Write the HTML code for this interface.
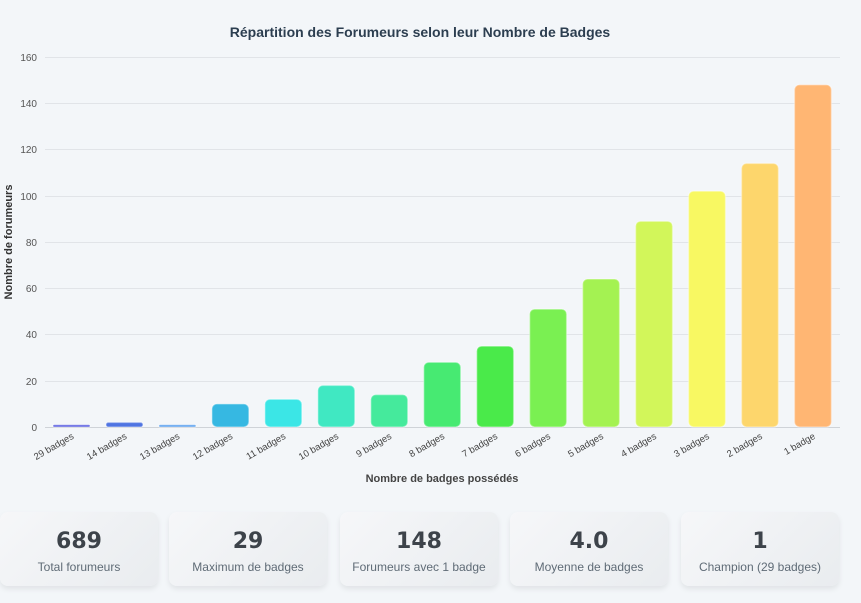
<!DOCTYPE html><html><head><meta charset="utf-8"><style>
body{margin:0;width:861px;height:603px;background:#f3f6f9;font-family:"Liberation Sans",sans-serif;overflow:hidden;position:relative}
.card{position:absolute;top:512px;width:158px;height:74px;border-radius:8px;background:linear-gradient(135deg,#f6f7f9,#e9ecef);box-shadow:0 3px 6px rgba(0,0,0,.08);text-align:center}
.card b{display:block;margin-top:17px;font-size:22px;color:#3d434a;line-height:26px;font-family:"DejaVu Sans","Liberation Sans",sans-serif}
.card span{display:block;margin-top:5px;font-size:12px;color:#5f6b76;font-family:"Liberation Sans",sans-serif}
</style></head><body>
<svg width="861" height="500" style="position:absolute;left:0;top:0" font-family="Liberation Sans, sans-serif">
<text x="420" y="37" text-anchor="middle" font-size="14" font-weight="bold" fill="#2c3e50">Répartition des Forumeurs selon leur Nombre de Badges</text>
<g stroke="#e1e4e8" stroke-width="1">
<line x1="45" x2="840" y1="57.5" y2="57.5"/><line x1="45" x2="840" y1="103.5" y2="103.5"/><line x1="45" x2="840" y1="149.5" y2="149.5"/><line x1="45" x2="840" y1="196.5" y2="196.5"/><line x1="45" x2="840" y1="242.5" y2="242.5"/><line x1="45" x2="840" y1="288.5" y2="288.5"/><line x1="45" x2="840" y1="334.5" y2="334.5"/><line x1="45" x2="840" y1="381.5" y2="381.5"/></g>
<line x1="45" x2="840" y1="427.5" y2="427.5" stroke="#cfd3d8"/>
<g font-size="10" fill="#555" text-anchor="end">
<text x="37" y="61">160</text><text x="37" y="107">140</text><text x="37" y="153">120</text><text x="37" y="200">100</text><text x="37" y="246">80</text><text x="37" y="292">60</text><text x="37" y="338">40</text><text x="37" y="385">20</text><text x="37" y="431">0</text></g>
<text transform="translate(12,242) rotate(-90)" text-anchor="middle" font-size="11" font-weight="bold" fill="#333">Nombre de forumeurs</text>
<text x="442" y="482" text-anchor="middle" font-size="11" font-weight="bold" fill="#444">Nombre de badges possédés</text>
<g id="bars"></g>
<g id="labs" font-size="9.5" fill="#444"></g>
</svg>
<div class="card" style="left:0"><b>689</b><span>Total forumeurs</span></div>
<div class="card" style="left:169px"><b>29</b><span>Maximum de badges</span></div>
<div class="card" style="left:340px"><b>148</b><span>Forumeurs avec 1 badge</span></div>
<div class="card" style="left:510px"><b>4.0</b><span>Moyenne de badges</span></div>
<div class="card" style="left:681px"><b>1</b><span>Champion (29 badges)</span></div>
<script>
var v=[1,2,1,10,12,18,14,28,35,51,64,89,102,114,148];
var c=["#5a5ee0","#4f74e2","#5aa0ee","#36b8e2","#3be6e6","#40e8c2","#45ea9c","#47ea72","#4aea4a","#7af052","#a4f252","#d2f65a","#f8f862","#fdd66c","#ffb673"];
var l=["29 badges","14 badges","13 badges","12 badges","11 badges","10 badges","9 badges","8 badges","7 badges","6 badges","5 badges","4 badges","3 badges","2 badges","1 badge"];
var b="",t="";
for(var i=0;i<15;i++){var cx=71.5+i*52.96,h=v[i]*2.3125,y=427-h,r=Math.min(5,h/2);
b+='<rect x="'+(cx-18.5)+'" y="'+y+'" width="37" height="'+h+'" rx="'+r+'" fill="'+c[i]+'" stroke="rgba(255,255,255,0.35)" stroke-width="1.5"/>';
t+='<text transform="translate('+(cx+3)+',438) rotate(-30)" text-anchor="end">'+l[i]+'</text>';}
document.getElementById("bars").innerHTML=b;document.getElementById("labs").innerHTML=t;
</script>
</body></html>
